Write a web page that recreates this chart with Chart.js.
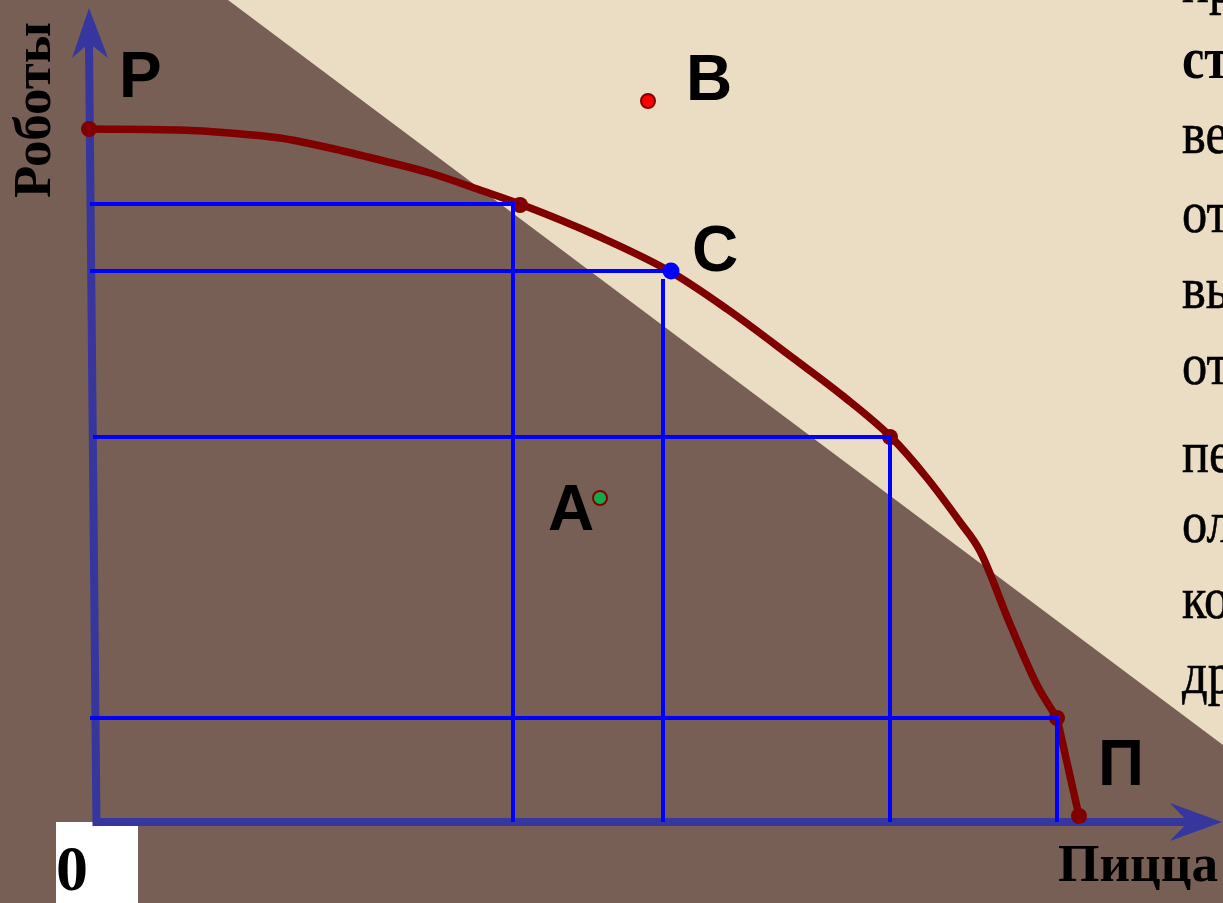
<!DOCTYPE html>
<html><head><meta charset="utf-8">
<script src="https://cdn.jsdelivr.net/npm/chart.js@4/dist/chart.umd.min.js"></script>
<style>html,body{margin:0;padding:0;background:#775F55;overflow:hidden}canvas{display:block}</style>
</head><body>
<canvas id="c" width="1223" height="903"></canvas>
<script>
// Production possibilities frontier (units: pizza on x, robots on y)
const curveX = [-0.08,0.83,1.33,1.83,2.33,2.83,3.33,3.83,4.23,5.03,5.74,6.30,6.96,7.46,7.95,8.30,8.63,8.83,9.13,9.40,9.60];
const curveY = [6.93,6.92,6.89,6.84,6.74,6.62,6.49,6.32,6.18,5.85,5.50,5.13,4.64,4.26,3.84,3.44,3.00,2.71,1.98,1.37,1.04];
const tailX = [9.60, 9.82];
const tailY = [1.04, 0.06];
const markX = [-0.08, 4.23, 7.93, 9.60, 9.82];
const markY = [6.93, 6.17, 3.85, 1.04, 0.06];
const pizzaLevels = [4.16, 5.66, 7.93, 9.60];
const robotLevels = [6.18, 5.51, 3.85, 1.04];
const levelStart = [-0.07, -0.07, -0.04, -0.07];
const levelTop = [6.18, 5.43, 3.85, 1.04];
const levelEnd = [4.16, 5.70, 7.93, 9.60];
const pointC = [5.74, 5.51];
const pointB = [5.51, 7.21];
const pointA = [5.03, 3.24];
const labelText = ['Р', 'B', 'C', 'A', 'П'];
const labelX = [0.22, 5.89, 5.95, 4.51, 10.01];
const labelY = [7.25, 7.22, 5.51, 2.92, 0.37];
const shadeX = [1.31, 11.26, 11.26];
const shadeY = [8.22, 8.22, 0.77];
const axisYX = [-0.005, -0.08];
const axisYY = [-0.04, 7.80];
const axisXX = [-0.04, 10.95];
const axisXY = [0, 0];
const arrowYX = [-0.08, -0.25, -0.08, 0.11];
const arrowYY = [8.14, 7.64, 7.79, 7.64];
const arrowXX = [11.25, 10.73, 10.91, 10.73];
const arrowXY = [0, 0.19, 0, -0.19];
const axisXTitle = 'Пицца';
const axisYTitle = 'Роботы';
const originLabel = '0';
const sideText = ['пр', 'ст', 'ве', 'от', 'вы', 'от', 'пе', 'ол', 'ко', 'др'];
const sideBold = [false, true, false, false, false, false, false, false, false, false];
const sideBase = [2, 78, 153, 232, 308, 384, 472, 542, 618, 693];

const pts = (xs, ys) => xs.map((x, i) => ({x, y: ys[i]}));

const datasets = [];
datasets.push({label:'curve', data: pts(curveX, curveY), borderColor:'#800000', borderWidth:7.5,
  pointRadius:0, cubicInterpolationMode:'monotone', borderJoinStyle:'round', order:10});
datasets.push({label:'tail', data: pts(tailX, tailY), borderColor:'#800000', borderWidth:7.5,
  pointRadius:0, tension:0, order:10});
datasets.push({label:'marks', data: pts(markX, markY), showLine:false, pointRadius:8,
  pointBackgroundColor:'#800000', pointBorderWidth:0, order:8});
pizzaLevels.forEach((px, i) => {
  const d = [{x:levelStart[i], y:robotLevels[i]}, {x:levelEnd[i], y:robotLevels[i]}];
  if (levelEnd[i] !== px || levelTop[i] !== robotLevels[i]) d.push({x:levelEnd[i], y:null});
  d.push({x:px, y:levelTop[i]}, {x:px, y:0});
  datasets.push({label:'level'+i, data:d, borderColor:'#0000FF', borderWidth:4, pointRadius:0,
    tension:0, borderJoinStyle:'miter', spanGaps:false, order:5});
});
datasets.push({label:'C', data:[{x:pointC[0], y:pointC[1]}], showLine:false, pointRadius:8.5,
  pointBackgroundColor:'#0000FF', pointBorderWidth:0, order:3});
datasets.push({label:'B', data:[{x:pointB[0], y:pointB[1]}], showLine:false, pointRadius:7,
  pointBackgroundColor:'#FF0000', pointBorderColor:'#800000', pointBorderWidth:2, order:2});
datasets.push({label:'A', data:[{x:pointA[0], y:pointA[1]}], showLine:false, pointRadius:7,
  pointBackgroundColor:'#12AA4A', pointBorderColor:'#800000', pointBorderWidth:2, order:2});

function fitText(ctx, txt, x, y, target) {
  const w = ctx.measureText(txt).width;
  ctx.save(); ctx.translate(x, y); ctx.scale(target / w, 1); ctx.fillText(txt, 0, 0); ctx.restore();
}

const deco = {
  id:'deco',
  beforeDraw(chart) {
    const {ctx, scales:{x, y}} = chart;
    ctx.save();
    ctx.fillStyle = '#775F55';
    ctx.fillRect(0, 0, chart.width, chart.height);
    ctx.fillStyle = '#EBDDC3';
    ctx.beginPath();
    shadeX.forEach((v, i) => {
      const px = x.getPixelForValue(v), py = y.getPixelForValue(shadeY[i]);
      i ? ctx.lineTo(px, py) : ctx.moveTo(px, py);
    });
    ctx.closePath(); ctx.fill();
    ctx.restore();
  },
  beforeDatasetsDraw(chart) {
    const {ctx, scales:{x, y}} = chart;
    ctx.save();
    // origin box
    ctx.fillStyle = '#FFFFFF';
    ctx.fillRect(56, 822, 82, 81);
    ctx.fillStyle = '#000';
    ctx.textBaseline = 'alphabetic'; ctx.textAlign = 'left';
    ctx.font = 'bold 64px "Liberation Serif"';
    ctx.fillText(originLabel, 56, 890);
    // axes
    ctx.strokeStyle = '#36369E'; ctx.fillStyle = '#36369E'; ctx.lineWidth = 8; ctx.lineCap = 'butt';
    ctx.beginPath();
    ctx.moveTo(x.getPixelForValue(axisYX[0]), y.getPixelForValue(axisYY[0]));
    ctx.lineTo(x.getPixelForValue(axisYX[1]), y.getPixelForValue(axisYY[1]));
    ctx.stroke();
    ctx.beginPath();
    ctx.moveTo(x.getPixelForValue(axisXX[0]), y.getPixelForValue(axisXY[0]));
    ctx.lineTo(x.getPixelForValue(axisXX[1]), y.getPixelForValue(axisXY[1]));
    ctx.stroke();
    [[arrowYX, arrowYY], [arrowXX, arrowXY]].forEach(([ax, ay]) => {
      ctx.beginPath();
      ax.forEach((v, i) => {
        const px = x.getPixelForValue(v), py = y.getPixelForValue(ay[i]);
        i ? ctx.lineTo(px, py) : ctx.moveTo(px, py);
      });
      ctx.closePath(); ctx.fill();
    });
    // axis titles
    ctx.fillStyle = '#000';
    ctx.font = 'bold 52px "Liberation Serif"';
    fitText(ctx, axisXTitle, 1058, 881, 160);
    ctx.save();
    ctx.translate(50, 198); ctx.rotate(-Math.PI / 2);
    ctx.font = 'bold 53px "Liberation Serif"';
    fitText(ctx, axisYTitle, 0, 0, 176);
    ctx.restore();
    // side text (cut by the frame)
    sideText.forEach((t, i) => {
      ctx.save();
      ctx.font = (sideBold[i] ? 'bold ' : '') + '60px "Liberation Serif"';
      ctx.translate(1182, sideBase[i]); ctx.scale(0.84, 1);
      ctx.lineWidth = 0.6; ctx.strokeStyle = '#000';
      ctx.fillText(t, 0, 0);
      if (!sideBold[i]) ctx.strokeText(t, 0, 0);
      ctx.restore();
    });
    ctx.restore();
  },
  afterDatasetsDraw(chart) {
    const {ctx, scales:{x, y}} = chart;
    ctx.save();
    ctx.fillStyle = '#000';
    ctx.font = 'bold 64px "Liberation Sans"';
    ctx.textAlign = 'left'; ctx.textBaseline = 'alphabetic';
    labelText.forEach((t, i) => ctx.fillText(t, x.getPixelForValue(labelX[i]), y.getPixelForValue(labelY[i])));
    ctx.restore();
  }
};

new Chart(document.getElementById('c'), {
  type:'line',
  data:{datasets},
  options:{
    responsive:false, animation:false, events:[],
    layout:{padding:0, autoPadding:false},
    plugins:{legend:{display:false}, tooltip:{enabled:false}},
    scales:{
      x:{type:'linear', display:false, min:-0.97, max:11.26},
      y:{type:'linear', display:false, min:-0.81, max:8.22}
    }
  },
  plugins:[deco]
});
</script>
</body></html>
